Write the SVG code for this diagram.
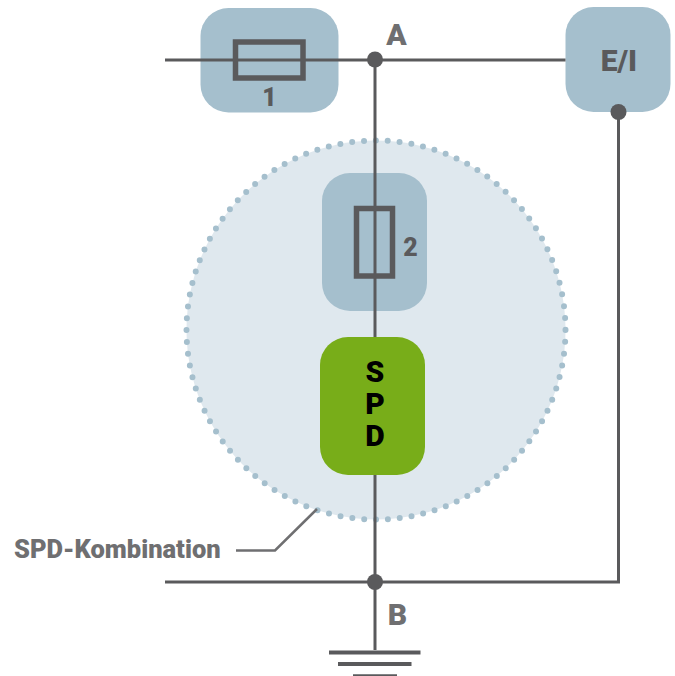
<svg xmlns="http://www.w3.org/2000/svg" width="675" height="676" viewBox="0 0 675 676">
<style>
.box{fill:#a5bfcd}
.wire{fill:none;stroke:#5a5a5c;stroke-width:3}
.fuse{fill:none;stroke:#5a5a5c;stroke-width:5.5}
.dot{fill:#5a5a5c}
.lab{font-family:Roboto,"Liberation Sans",sans-serif;font-weight:900;fill:#6f6f71}
.dk{fill:#5a5a5c}
.spd{font-family:Roboto,"Liberation Sans",sans-serif;font-weight:900;font-size:30px;text-anchor:middle;fill:#000}
</style>
<rect width="675" height="676" fill="#fff"/>
<g id="spd-kombination-area">
<circle cx="376" cy="330" r="189.500" fill="#dfe8ee" stroke="#a5bfcd" stroke-width="6" stroke-linecap="round" stroke-dasharray="0 11.900"/>
</g>
<g id="node-1"><rect class="box" x="200.500" y="8" width="138" height="104.500" rx="28"/></g>
<g id="node-2"><rect class="box" x="322" y="173" width="105" height="138" rx="28"/></g>
<g id="node-ei"><rect class="box" x="565.500" y="7" width="105" height="105" rx="28"/></g>
<g id="connectors">
<path class="wire" d="M165 60H565.500"/>
<path class="wire" d="M375 60V650"/>
<path class="wire" d="M165 582H618.500V112"/>
<path d="M236 550.500H275L317 509" fill="none" stroke="#6f6f71" stroke-width="2.500"/>
<path d="M329 652.500H420.500" fill="none" stroke="#5a5a5c" stroke-width="4"/>
<path d="M338 664H411.500" fill="none" stroke="#5a5a5c" stroke-width="4"/>
<path d="M353 675.500H397" fill="none" stroke="#5a5a5c" stroke-width="2.500"/>
<circle class="dot" cx="375" cy="59.500" r="8"/>
<circle class="dot" cx="375" cy="582" r="8"/>
<circle class="dot" cx="618.500" cy="112" r="8"/>
</g>
<g id="fuse-1"><rect class="fuse" x="235.500" y="42" width="67.500" height="36"/><text class="lab dk" x="269.500" y="106" font-size="25" text-anchor="middle">1</text></g>
<g id="fuse-2"><rect class="fuse" x="356.500" y="208.500" width="36" height="67.500"/><text class="lab dk" x="410.500" y="256" font-size="25" text-anchor="middle">2</text></g>
<g id="node-spd">
<rect x="320" y="337" width="105" height="138" rx="28" fill="#78ad19"/>
<text class="spd" x="375" y="382">S</text>
<text class="spd" x="375" y="414">P</text>
<text class="spd" x="375" y="446">D</text>
</g>
<g id="labels">
<text class="lab" x="396.500" y="45" font-size="30" text-anchor="middle">A</text>
<text class="lab" x="397.500" y="625" font-size="30" text-anchor="middle">B</text>
<text class="lab dk" x="619" y="71" font-size="30" text-anchor="middle">E/I</text>
<text class="lab" x="14" y="558" font-size="25.500">SPD-Kombination</text>
</g>
</svg>
